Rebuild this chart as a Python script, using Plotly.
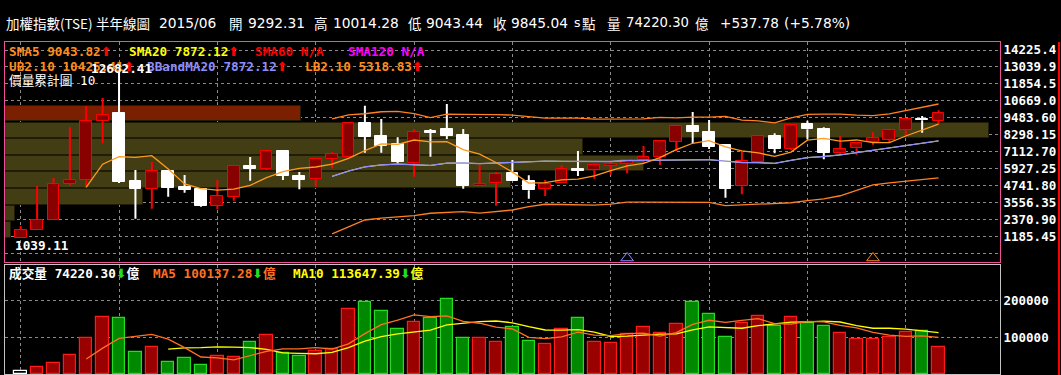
import numpy as np
import plotly.graph_objects as go

# ---------------- data ----------------
opens = [1039, 1609, 2309, 4828, 5108, 9236, 9817, 5059, 4520, 5758,
         4660, 4499, 3331, 3960, 6087, 5898, 7158, 5409, 5178, 6577,
         6759, 9138, 8207, 7648, 6297, 8578, 8697, 8277, 4688, 4898,
         5598, 5080, 4478, 4898, 5898, 5807, 6129, 6248, 6528, 6717,
         7809, 8907, 8487, 7578, 4688, 6409, 8186, 7319, 9047, 8697,
         7039, 7347, 7767, 7928, 8606, 9376, 9292.31]
highs = [1910, 4730, 5269, 8816, 10307, 10866, 12682.41, 5829, 6388, 5829,
         5479, 4548, 5129, 6087, 6738, 7228, 7158, 5689, 6577, 7088,
         9187, 10328, 9397, 8117, 8676, 8697, 10446, 8697, 6157, 5689,
         6528, 5458, 5129, 6157, 7158, 6157, 6437, 6598, 7508, 7837,
         8998, 9887, 9327, 7578, 7137, 8186, 8396, 8998, 9278, 8816,
         8207, 7767, 8466, 8640, 9418, 9607, 10014.28]
lows = [1039.11, 1609, 2309, 4709, 4590, 7697, 4919, 2421, 3121, 3960,
        4240, 3261, 3079, 3680, 5080, 5829, 5129, 4478, 4660, 5947,
        6759, 7039, 7039, 6297, 5360, 6759, 7998, 4520, 4688, 3331,
        5059, 3820, 4009, 4898, 5409, 5220, 5500, 5598, 6297, 6178,
        7158, 7697, 7298, 3890, 4128, 6409, 6997, 7207, 7977, 6577,
        6899, 6899, 7599, 7767, 8256, 8438, 9043.44]
closes = [1630, 2330, 4828, 5129, 9236, 9656, 4989, 4520, 5738, 4590,
          4450, 3331, 3988, 6087, 5919, 7137, 5409, 5150, 6577, 6948,
          9096, 8159, 7508, 6409, 8466, 8438, 8228, 4709, 4870, 5528,
          5059, 4408, 4828, 5877, 5779, 6157, 6248, 6528, 6717, 7837,
          8907, 8508, 7459, 4520, 6437, 8186, 7319, 8956, 8676, 7039,
          7277, 7697, 8062.21, 8611.51, 9393.07, 9307.26, 9845.04]
volumes = [9000, 18100, 29200, 51100, 97600, 157000, 152400, 61100, 73000, 31900,
           42700, 23500, 48400, 45700, 86800, 106000, 57600, 48400, 61900, 67600,
           177000, 196200, 171600, 122400, 141400, 152400, 204600, 97600, 97600, 86800,
           128700, 89500, 80800, 121900, 152200, 86200, 83500, 108100, 127600, 111100,
           135700, 196200, 163200, 100000, 138400, 157600, 130300, 154900, 138400, 130300,
           111100, 94600, 94600, 100000, 113800, 116500, 74220.30]
# volume-by-price accumulation, 10 price bins (億)
vbp_volume = [5700, 9700, 138000, 506000, 639000, 578000, 984000, 296000, 0, 0]

y_tick_vals = [0, 1185.45, 2370.90, 3556.35, 4741.80, 5927.25, 7112.70,
               8298.15, 9483.60, 10669.05, 11854.50, 13039.95, 14225.40]
y_tick_text = ["", "1185.45", "2370.90", "3556.35", "4741.80", "5927.25", "7112.70",
               "8298.15", "9483.60", "10669.0", "11854.5", "13039.9", "14225.4"]
vol_tick_vals = [100000, 200000]
vol_tick_text = ["100000", "200000"]
x_grid_vals = [0, 6, 12, 18, 24, 30, 36, 42, 48, 54]
signal_idx = [37, 52]
signal_colors = ["#8c8cff", "#ff8c1a"]

# ---------------- derived ----------------
o = np.array(opens, float); h = np.array(highs, float)
l = np.array(lows, float); c = np.array(closes, float)
v = np.array(volumes, float)
n = len(c)
xi = np.arange(n)
up = c >= o


def sma(a, k):
    out = [None] * len(a)
    for i in range(k - 1, len(a)):
        out[i] = float(np.mean(a[i - k + 1:i + 1]))
    return out


def bbands(a, k, m):
    mid, ub, lb = [None] * len(a), [None] * len(a), [None] * len(a)
    for i in range(k - 1, len(a)):
        w = a[i - k + 1:i + 1]
        mu, sd = float(np.mean(w)), float(np.std(w))
        mid[i], ub[i], lb[i] = mu, mu + m * sd, mu - m * sd
    return mid, ub, lb


sma5 = sma(c, 5)
sma20 = sma(c, 20)
bmid, bub, blb = bbands(c, 20, 2.1)
vma5 = sma(v, 5)
vma10 = sma(v, 10)

edges = np.linspace(l.min(), h.max(), len(vbp_volume) + 1)
centers = (edges[:-1] + edges[1:]) / 2
bin_h = edges[1] - edges[0]
last_bin = int(min(np.searchsorted(edges, c[-1]) - 1, len(vbp_volume) - 1))
vbp_colors = ["#7a2000" if i == last_bin else "#433d14" for i in range(len(vbp_volume))]

fig = go.Figure()

# volume-by-price histogram (base axes x / y)
fig.add_trace(go.Bar(
    y=centers, x=vbp_volume, orientation="h", width=bin_h * 0.93,
    marker=dict(color=vbp_colors, line=dict(color="#201c06", width=1)),
    xaxis="x", yaxis="y", hoverinfo="skip"))

# candle bodies
body_base = np.minimum(o, c)
body_h = np.maximum(np.abs(c - o), 20)
fig.add_trace(go.Bar(
    x=xi, y=body_h, base=body_base, width=0.72,
    marker=dict(color=["#880000" if u else "#ffffff" for u in up],
                line=dict(color=["#ff0000" if u else "#ffffff" for u in up], width=1)),
    xaxis="x2", yaxis="y", hoverinfo="skip"))

# wicks (upper and lower segments)
for flag, col in ((True, "#ff0000"), (False, "#ffffff")):
    wx, wy = [], []
    for i in range(n):
        if up[i] != flag:
            continue
        top, bot = max(o[i], c[i]), min(o[i], c[i])
        if h[i] > top:
            wx += [i, i, None]; wy += [top, h[i], None]
        if l[i] < bot:
            wx += [i, i, None]; wy += [bot, l[i], None]
    fig.add_trace(go.Scatter(x=wx, y=wy, mode="lines", line=dict(color=col, width=2),
                             xaxis="x2", yaxis="y", hoverinfo="skip"))

# indicator lines
fig.add_trace(go.Scatter(x=xi, y=sma20, mode="lines", line=dict(color="#ffff00", width=1),
                         xaxis="x2", yaxis="y"))
fig.add_trace(go.Scatter(x=xi, y=bmid, mode="lines", line=dict(color="#8c8cff", width=1.3),
                         xaxis="x2", yaxis="y"))
fig.add_trace(go.Scatter(x=xi, y=bub, mode="lines", line=dict(color="#ff8020", width=1.3),
                         xaxis="x2", yaxis="y"))
fig.add_trace(go.Scatter(x=xi, y=blb, mode="lines", line=dict(color="#ff8020", width=1.3),
                         xaxis="x2", yaxis="y"))
fig.add_trace(go.Scatter(x=xi, y=sma5, mode="lines", line=dict(color="#ff9a1a", width=1.3),
                         xaxis="x2", yaxis="y"))

# signal triangles
fig.add_trace(go.Scatter(x=signal_idx, y=[-330] * len(signal_idx), mode="markers",
                         marker=dict(symbol="triangle-up-open", size=11, color=signal_colors,
                                     line=dict(width=1, color=signal_colors)),
                         xaxis="x2", yaxis="y"))

# volume bars
vfill = ["#990000" if u else "#008800" for u in up]
vline = ["#ff1a1a" if u else "#22dd22" for u in up]
vfill[0] = "#000000"; vline[0] = "#ffffff"
fig.add_trace(go.Bar(x=xi, y=v, width=0.76,
                     marker=dict(color=vfill, line=dict(color=vline, width=1.2)),
                     xaxis="x3", yaxis="y2"))
fig.add_trace(go.Scatter(x=xi, y=vma10, mode="lines", line=dict(color="#ffff00", width=1.3),
                         xaxis="x3", yaxis="y2"))
fig.add_trace(go.Scatter(x=xi, y=vma5, mode="lines", line=dict(color="#ff7020", width=1.3),
                         xaxis="x3", yaxis="y2"))

PINK = "#f0509a"
GRID = "#8a8a8a"
VBORDER = "#c4c4c4"
xr = [-0.958, 59.75]
LBL = dict(family="DejaVu Sans Mono", size=12.5, color="white", weight="bold")

# plot area: x 5..1000, main panel y 42..262.3, volume panel y 265..374 (px)
H = 375.0
PB = 1.0
PH = H - 42 - PB


def dom(ytop, ybot):
    return [(H - PB - ybot) / PH, (H - PB - ytop) / PH]


fig.update_layout(
    width=1061, height=375, margin=dict(l=5, r=61, t=42, b=PB),
    paper_bgcolor="black", plot_bgcolor="black", showlegend=False,
    barmode="overlay", bargap=0, hovermode=False,
    xaxis=dict(domain=[0, 1], range=[0, max(vbp_volume) * 995 / 984], anchor="y",
               showgrid=False, showticklabels=False, zeroline=False,
               showline=True, linecolor=PINK, linewidth=1, mirror=True, fixedrange=True),
    xaxis2=dict(overlaying="x", anchor="y", range=xr, tickvals=x_grid_vals,
                showgrid=True, gridcolor=GRID, griddash="dot", gridwidth=1,
                showticklabels=False, zeroline=False, showline=False),
    yaxis=dict(domain=dom(42, 262.3), range=[-630, 14785], side="right", anchor="x",
               tickvals=y_tick_vals, ticktext=y_tick_text, tickfont=LBL, ticks="",
               showgrid=True, gridcolor=GRID, griddash="dot", gridwidth=1,
               zeroline=False, showline=True, linecolor=PINK, mirror=True),
    xaxis3=dict(domain=[0, 1], anchor="y2", range=xr, tickvals=x_grid_vals,
                showgrid=True, gridcolor=GRID, griddash="dot", showticklabels=False,
                zeroline=False, showline=True, linecolor=VBORDER, mirror=True),
    yaxis2=dict(domain=dom(265, 374), anchor="x3", range=[0, 297800], side="right",
                tickvals=vol_tick_vals, ticktext=vol_tick_text, tickfont=LBL, ticks="",
                showgrid=True, gridcolor=GRID, griddash="dot", zeroline=False,
                showline=True, linecolor=VBORDER, mirror=True),
)


def px(xp):
    return (xp - 5) / 995


def py(yp):
    return (H - PB - yp) / PH


anns = []


def txt(x, y, s, color="white", size=12.7, bold=True, fam="DejaVu Sans Mono, Noto Sans CJK TC"):
    anns.append(dict(xref="paper", yref="paper", x=px(x), y=py(y), xanchor="left",
                     yanchor="middle", showarrow=False, text=s,
                     font=dict(family=fam, size=size, color=color,
                               weight="bold" if bold else "normal")))


NUM = "DejaVu Sans"
CJ = "Noto Sans CJK TC"
header = [("加權指數", 4, CJ, 13.5), ("(TSE)", 58, CJ, 13.5), ("半年線圖", 94, CJ, 13.5),
          ("2015/06", 157, NUM, 13.8), ("開", 227, CJ, 13.5),
          ("9292.31", 246, NUM, 13.8), ("高", 312, CJ, 13.5), ("10014.28", 331, NUM, 13.8),
          ("低", 406, CJ, 13.5), ("9043.44", 424, NUM, 13.8), ("收", 491, CJ, 13.5),
          ("9845.04", 509, NUM, 13.8), ("s", 572, NUM, 12.5), ("點", 580, CJ, 13.5),
          ("量", 605, CJ, 13.5), ("74220.30", 624, NUM, 13.2), ("億", 693, CJ, 13.5),
          ("+537.78", 718, NUM, 13.6), ("(+5.78%)", 782, NUM, 13.8)]
for s, xx, ff, sz in header:
    txt(xx, 23, s, size=sz, bold=False, fam=ff)

UPA = "<span style='color:#ff0000;font-family:DejaVu Sans'>⬆</span>"
DNA = "<span style='color:#22dd22;font-family:DejaVu Sans'>⬇</span>"
txt(7, 51, "SMA5 9043.82" + UPA, color="#ff8c1a")
txt(127, 51, "SMA20 7872.12" + UPA, color="#ffff00")
txt(253, 51, "SMA60 N/A", color="#ff0000")
txt(346, 51, "SMA120 N/A", color="#ff00ff")
txt(7, 66, "UB2.10 10425.41" + UPA, color="#ff8c1a")
txt(145, 66, "BBandMA20 7872.12" + UPA, color="#8c8cff")
txt(303, 66, "LB2.10 5318.83" + UPA, color="#ff8c1a")
txt(7, 80, "價量累計圖 10", color="white", bold=False)
txt(89, 68, "12682.41", color="white")
txt(13, 245, "1039.11", color="white")
txt(7, 273.6, "成交量 74220.30" + DNA + "億", color="white")
txt(151, 273.6, "MA5 100137.28" + DNA + "億", color="#ff7020")
txt(291, 273.6, "MA10 113647.39" + DNA + "億", color="#ffff00")

fig.update_layout(annotations=anns)
fig.add_shape(type="line", xref="paper", yref="paper", x0=px(1059), x1=px(1059),
              y0=py(42), y1=py(375), line=dict(color="#ff0000", width=2))

fig.write_html("out.html", config={"displayModeBar": False},
               post_script="document.body.style.margin='0px';")
